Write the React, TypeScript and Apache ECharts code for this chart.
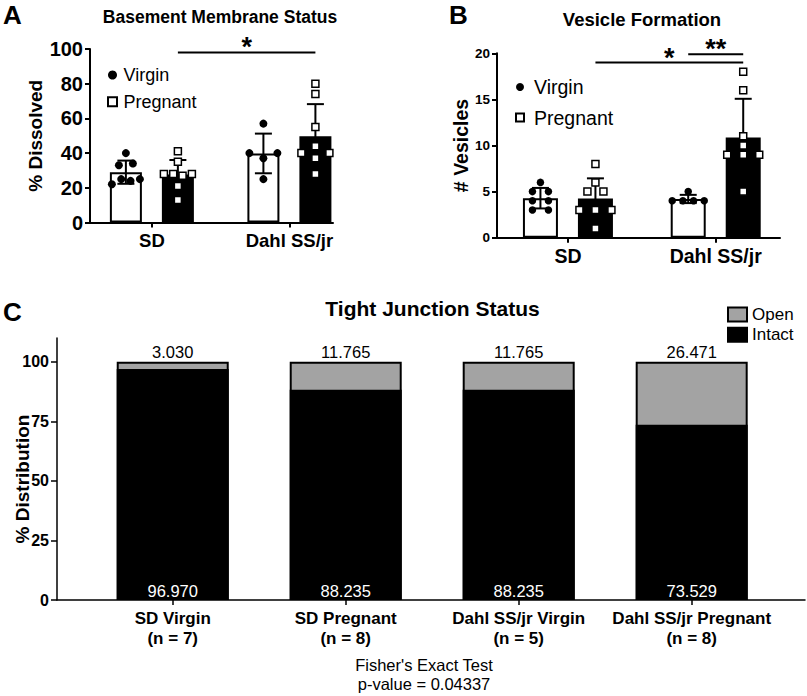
import React, { useEffect, useRef } from 'react';
import * as echarts from 'echarts';

const FONT = '"Liberation Sans", Arial, Helvetica, sans-serif';

// ---------- Panels A & B : strain groups ----------
const strainGroups = ['SD', 'Dahl SS/jr'];
const statusNames = ['Virgin', 'Pregnant'];

// Panel A: % basement membrane dissolved (one value per animal)
const dissolvedSDVirgin = [40, 33, 34, 22, 25, 24, 25];
const dissolvedSDPregnant = [41, 35, 28, 28, 27, 28, 21, 13];
const dissolvedDahlVirgin = [57, 40, 37, 40, 25];
const dissolvedDahlPregnant = [80, 74, 55, 44, 40, 37, 40, 28];
const dissolvedTicks = [0, 20, 40, 60, 80, 100];
// comparisons: [group, status] -> [group, status], height, label
const dissolvedSig = [{ a: [0, 1], b: [1, 1], y: 98, text: '*' }];

// Panel B: # vesicles
const vesiclesSDVirgin = [6, 5, 5, 4, 4, 3, 3];
const vesiclesSDPregnant = [8, 6, 5, 5, 3, 3, 3, 1];
const vesiclesDahlVirgin = [5, 4, 4, 4, 4];
const vesiclesDahlPregnant = [18, 16, 11, 10, 9, 9, 9, 5];
const vesicleTicks = [0, 5, 10, 15, 20];
const vesicleSig = [
  { a: [0, 1], b: [1, 1], y: 19.0, text: '*' },
  { a: [1, 0], b: [1, 1], y: 19.9, text: '**' },
];

// ---------- Panel C : tight junction status ----------
const junctionGroups = ['SD Virgin', 'SD Pregnant', 'Dahl SS/jr Virgin', 'Dahl SS/jr Pregnant'];
const junctionN = [7, 8, 5, 8];
const openPct = [3.03, 11.765, 11.765, 26.471];
const intactPct = [96.97, 88.235, 88.235, 73.529];
const distributionTicks = [0, 25, 50, 75, 100];

// ---------- layout (pixels) ----------
const PANEL_A = {
  left: 90, top: 49, width: 243, height: 173.5, xMin: -0.45, xMax: 1.317, yMax: 100,
  barW: 32, barOff: 26, capHalf: 8.5, maxStep: 14, maxSpan: 28, circle: 8, square: 7,
  tickFont: 20, catFont: 18.5, nameFont: 19, nameGap: 45, starSize: 27, starLift: 5,
};
const PANEL_B = {
  left: 497, top: 53.3, width: 283, height: 184.4, xMin: -0.48, xMax: 1.435, yMax: 20,
  barW: 35, barOff: 27.5, capHalf: 8.5, maxStep: 16, maxSpan: 32, circle: 7.5, square: 7,
  tickFont: 13.5, catFont: 19.5, nameFont: 19.5, nameGap: 24, starSize: 27, starLift: 5,
};
const PANEL_C = { left: 57, top: 338, width: 748, height: 262, xMin: -0.669, xMax: 3.655, yMax: 110, barW: 112 };

const SQUARE_ICON = 'path://M0 0H10V10H0Z';

function mean(a: number[]) {
  return a.reduce((s, v) => s + v, 0) / a.length;
}
function stdev(a: number[]) {
  const m = mean(a);
  return Math.sqrt(a.reduce((s, v) => s + (v - m) * (v - m), 0) / (a.length - 1));
}

// row-based dot spreading (like a scatter dot plot): returns pixel offsets
function spread(values: number[], pxPerY: number, rowGapPx: number, maxStep: number, maxSpan: number) {
  const idx = values.map((_, i) => i).sort((p, q) => values[p] - values[q]);
  const rows: number[][] = [];
  let cur = [idx[0]];
  for (let k = 1; k < idx.length; k++) {
    if ((values[idx[k]] - values[idx[k - 1]]) * pxPerY < rowGapPx) cur.push(idx[k]);
    else {
      rows.push(cur);
      cur = [idx[k]];
    }
  }
  rows.push(cur);
  const off = new Array(values.length).fill(0);
  rows.forEach((row) => {
    row.sort((p, q) => p - q);
    const n = row.length;
    const step = n > 1 ? Math.min(maxStep, maxSpan / (n - 1)) : 0;
    row.forEach((i, j) => {
      off[i] = (j - (n - 1) / 2) * step;
    });
  });
  return off;
}

function dotPanel(
  ai: number,
  P: typeof PANEL_A,
  data: number[][][],
  ticks: number[],
  yName: string,
  sig: { a: number[]; b: number[]; y: number; text: string }[]
) {
  const unitX = P.width / (P.xMax - P.xMin);
  const pxPerY = P.height / P.yMax;
  const offX = [-P.barOff / unitX, P.barOff / unitX];
  const bars: any[] = [];
  const errs: number[][] = [];
  const dots: number[][][] = [[], []];
  data.forEach((groupSeries, g) =>
    groupSeries.forEach((vals, s) => {
      const x = g + offX[s];
      const m = mean(vals);
      bars.push({
        value: [x, m],
        itemStyle: { color: s === 0 ? '#fff' : '#000', borderColor: '#000', borderWidth: 2 },
      });
      errs.push([x, m, stdev(vals)]);
      const jit = spread(vals, pxPerY, 6, P.maxStep, P.maxSpan);
      vals.forEach((v, k) => dots[s].push([x + jit[k] / unitX, v]));
    })
  );
  const sigData = sig.map((c) => [c.a[0] + offX[c.a[1]], c.b[0] + offX[c.b[1]], c.y]);

  const grid = { left: P.left, top: P.top, width: P.width, height: P.height, containLabel: false };
  const xAxis = {
    type: 'value',
    gridIndex: ai,
    min: P.xMin,
    max: P.xMax,
    splitLine: { show: false },
    axisLine: { show: true, onZero: false, lineStyle: { color: '#000', width: 2 } },
    axisTick: { show: true, customValues: [0, 1], length: 5, lineStyle: { color: '#000', width: 2 } },
    axisLabel: {
      customValues: [0, 1],
      formatter: (v: number) => strainGroups[Math.round(v)],
      color: '#000',
      fontWeight: 'bold',
      fontSize: P.catFont,
      margin: 8,
      fontFamily: FONT,
    },
  };
  const yAxis = {
    type: 'value',
    gridIndex: ai,
    min: 0,
    max: P.yMax,
    splitLine: { show: false },
    axisLine: { show: true, onZero: false, lineStyle: { color: '#000', width: 2 } },
    axisTick: { show: true, customValues: ticks, length: 5, lineStyle: { color: '#000', width: 2 } },
    axisLabel: {
      customValues: ticks,
      color: '#000',
      fontWeight: 'bold',
      fontSize: P.tickFont,
      margin: 7,
      fontFamily: FONT,
    },
    name: yName,
    nameLocation: 'middle',
    nameGap: P.nameGap,
    nameTextStyle: { color: '#000', fontWeight: 'bold', fontSize: P.nameFont, fontFamily: FONT },
  };
  const series: any[] = [
    {
      type: 'bar',
      name: 'bars' + ai,
      xAxisIndex: ai,
      yAxisIndex: ai,
      barWidth: P.barW,
      data: bars,
      silent: true,
      z: 1,
    },
    {
      type: 'custom',
      name: 'err' + ai,
      xAxisIndex: ai,
      yAxisIndex: ai,
      silent: true,
      z: 2,
      encode: { x: 0, y: 1 },
      data: errs,
      renderItem: (_p: any, api: any) => {
        const x = api.value(0);
        const m = api.value(1);
        const s = api.value(2);
        const t = api.coord([x, m + s]);
        const b = api.coord([x, m - s]);
        const st = { stroke: '#000', lineWidth: 2 };
        return {
          type: 'group',
          children: [
            { type: 'line', shape: { x1: t[0], y1: t[1], x2: b[0], y2: b[1] }, style: st },
            { type: 'line', shape: { x1: t[0] - P.capHalf, y1: t[1], x2: t[0] + P.capHalf, y2: t[1] }, style: st },
            { type: 'line', shape: { x1: b[0] - P.capHalf, y1: b[1], x2: b[0] + P.capHalf, y2: b[1] }, style: st },
          ],
        };
      },
    },
    {
      type: 'scatter',
      name: statusNames[0],
      xAxisIndex: ai,
      yAxisIndex: ai,
      symbol: 'circle',
      symbolSize: P.circle,
      itemStyle: { color: '#000', borderColor: '#000', borderWidth: 0, opacity: 1 },
      data: dots[0],
      silent: true,
      z: 3,
    },
    {
      type: 'scatter',
      name: statusNames[1],
      xAxisIndex: ai,
      yAxisIndex: ai,
      symbol: 'rect',
      symbolSize: P.square,
      itemStyle: { color: '#fff', borderColor: '#000', borderWidth: 1.5, opacity: 1 },
      data: dots[1],
      silent: true,
      z: 3,
    },
    {
      type: 'custom',
      name: 'sig' + ai,
      xAxisIndex: ai,
      yAxisIndex: ai,
      silent: true,
      z: 4,
      encode: { x: [0, 1], y: 2 },
      data: sigData,
      renderItem: (p: any, api: any) => {
        const p1 = api.coord([api.value(0), api.value(2)]);
        const p2 = api.coord([api.value(1), api.value(2)]);
        return {
          type: 'group',
          children: [
            {
              type: 'line',
              shape: { x1: p1[0], y1: p1[1], x2: p2[0], y2: p2[1] },
              style: { stroke: '#000', lineWidth: 2 },
            },
            {
              type: 'text',
              x: (p1[0] + p2[0]) / 2,
              y: p1[1] - P.starLift,
              style: {
                text: sig[p.dataIndex].text,
                fontSize: P.starSize,
                fontWeight: 'bold',
                fontFamily: FONT,
                fill: '#000',
                align: 'center',
                verticalAlign: 'middle',
              },
            },
          ],
        };
      },
    },
  ];
  return { grid, xAxis, yAxis, series };
}

function buildOption() {
  const A = dotPanel(
    0,
    PANEL_A,
    [
      [dissolvedSDVirgin, dissolvedSDPregnant],
      [dissolvedDahlVirgin, dissolvedDahlPregnant],
    ],
    dissolvedTicks,
    '% Dissolved',
    dissolvedSig
  );
  const B = dotPanel(
    1,
    PANEL_B,
    [
      [vesiclesSDVirgin, vesiclesSDPregnant],
      [vesiclesDahlVirgin, vesiclesDahlPregnant],
    ],
    vesicleTicks,
    '# Vesicles',
    vesicleSig
  );

  const C = PANEL_C;
  const cGrid = { left: C.left, top: C.top, width: C.width, height: C.height, containLabel: false };
  const cIdx = junctionGroups.map((_, i) => i);
  const cX = {
    type: 'value',
    gridIndex: 2,
    min: C.xMin,
    max: C.xMax,
    splitLine: { show: false },
    axisLine: { show: true, onZero: false, lineStyle: { color: '#000', width: 1.5 } },
    axisTick: { show: true, customValues: cIdx, length: 5, lineStyle: { color: '#000', width: 1.5 } },
    axisLabel: {
      customValues: cIdx,
      formatter: (v: number) => {
        const i = Math.round(v);
        return junctionGroups[i] + '\n(n = ' + junctionN[i] + ')';
      },
      color: '#000',
      fontWeight: 'bold',
      fontSize: 17,
      lineHeight: 20,
      margin: 8,
      fontFamily: FONT,
    },
  };
  const cY = {
    type: 'value',
    gridIndex: 2,
    min: 0,
    max: C.yMax,
    splitLine: { show: false },
    axisLine: { show: true, onZero: false, lineStyle: { color: '#000', width: 1.5 } },
    axisTick: { show: true, customValues: distributionTicks, length: 6, lineStyle: { color: '#000', width: 1.5 } },
    axisLabel: {
      customValues: distributionTicks,
      color: '#000',
      fontWeight: 'bold',
      fontSize: 16,
      margin: 8,
      fontFamily: FONT,
    },
  };
  // stacked manually: the "Open" bar spans the full total, the "Intact" bar is drawn over its lower part
  const cSeries = [
    {
      type: 'bar',
      name: 'Open',
      xAxisIndex: 2,
      yAxisIndex: 2,
      barWidth: C.barW,
      barGap: '-100%',
      z: 1,
      itemStyle: { color: '#a3a3a3', borderColor: '#000', borderWidth: 2 },
      label: {
        show: true,
        position: 'top',
        distance: 1,
        color: '#000',
        fontSize: 16.5,
        fontFamily: FONT,
        formatter: (p: any) => openPct[p.dataIndex].toFixed(3),
      },
      data: openPct.map((v, i) => [i, v + intactPct[i]]),
      silent: true,
    },
    {
      type: 'bar',
      name: 'Intact',
      xAxisIndex: 2,
      yAxisIndex: 2,
      barWidth: C.barW,
      barGap: '-100%',
      z: 2,
      itemStyle: { color: '#000', borderColor: '#000', borderWidth: 2 },
      label: {
        show: true,
        position: 'insideBottom',
        distance: 1,
        color: '#fff',
        fontSize: 16.5,
        fontFamily: FONT,
        formatter: (p: any) => intactPct[p.dataIndex].toFixed(3),
      },
      data: intactPct.map((v, i) => [i, v]),
      silent: true,
    },
  ];

  const txt = (
    text: string,
    x: number,
    y: number,
    size: number,
    bold: boolean,
    align = 'center',
    rotation = 0
  ) => ({
    type: 'text',
    x,
    y,
    rotation,
    silent: true,
    style: {
      text,
      fontSize: size,
      fontWeight: bold ? 'bold' : 'normal',
      fontFamily: FONT,
      fill: '#000',
      align,
      verticalAlign: 'middle',
    },
  });

  return {
    animation: false,
    backgroundColor: '#fff',
    textStyle: { fontFamily: FONT },
    grid: [A.grid, B.grid, cGrid],
    xAxis: [A.xAxis, B.xAxis, cX],
    yAxis: [A.yAxis, B.yAxis, cY],
    legend: [
      {
        data: [
          { name: statusNames[0], icon: 'circle' },
          { name: statusNames[1], icon: SQUARE_ICON },
        ],
        orient: 'vertical',
        left: 107,
        top: 66,
        padding: 0,
        itemWidth: 12,
        itemHeight: 9,
        itemGap: 8.7,
        symbolKeepAspect: true,
        selectedMode: false,
        textStyle: { color: '#000', fontSize: 18, fontFamily: FONT },
      },
      {
        data: [
          { name: statusNames[0], icon: 'circle' },
          { name: statusNames[1], icon: SQUARE_ICON },
        ],
        orient: 'vertical',
        left: 515,
        top: 77,
        padding: 0,
        itemWidth: 18,
        itemHeight: 8,
        itemGap: 10.5,
        symbolKeepAspect: true,
        selectedMode: false,
        textStyle: { color: '#000', fontSize: 19.5, fontFamily: FONT },
      },
      {
        data: ['Open', 'Intact'],
        orient: 'vertical',
        left: 727,
        top: 306,
        padding: 0,
        icon: 'rect',
        itemWidth: 19,
        itemHeight: 14,
        itemGap: 3.3,
        selectedMode: false,
        textStyle: { color: '#000', fontSize: 17, fontFamily: FONT },
      },
    ],
    graphic: [
      txt('A', 3, 15, 26, true, 'left'),
      txt('B', 449, 15, 26, true, 'left'),
      txt('C', 3, 312, 26, true, 'left'),
      txt('Basement Membrane Status', 220, 17, 17.5, true),
      txt('Vesicle Formation', 642, 19, 18.5, true),
      txt('Tight Junction Status', 432.5, 308, 21, true),
      txt('% Distribution', 22, 479, 19, true, 'center', Math.PI / 2),
      txt("Fisher's Exact Test", 424, 665, 16.5, false),
      txt('p-value = 0.04337', 424, 684, 16.5, false),
    ],
    series: [...A.series, ...B.series, ...cSeries],
  };
}

export default function App() {
  const ref = useRef<HTMLDivElement>(null);
  useEffect(() => {
    const chart = echarts.init(ref.current as HTMLDivElement, undefined, { renderer: 'svg' });
    chart.setOption(buildOption() as any);
    return () => chart.dispose();
  }, []);
  return (
    <div
      ref={ref}
      style={{ position: 'fixed', left: 0, top: 0, width: 807, height: 696, background: '#fff' }}
    />
  );
}
